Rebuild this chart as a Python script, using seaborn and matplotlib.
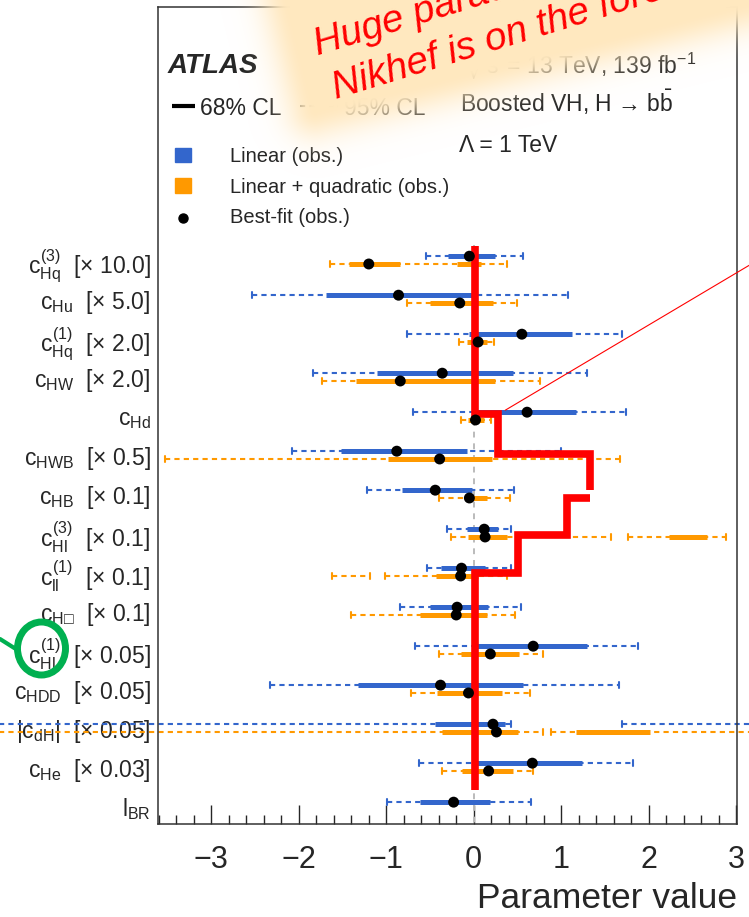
import numpy as np
import pandas as pd
import matplotlib
matplotlib.use("Agg")
import matplotlib.pyplot as plt
import seaborn as sns
from matplotlib.patches import Ellipse, Rectangle
from matplotlib.ticker import MultipleLocator

# ---- data ----
labels = [r"$c_{Hq}^{(3)}$  [× 10.0]", r"$c_{Hu}$  [× 5.0]", r"$c_{Hq}^{(1)}$  [× 2.0]",
          r"$c_{HW}$  [× 2.0]", r"$c_{Hd}$", r"$c_{HWB}$  [× 0.5]", r"$c_{HB}$  [× 0.1]",
          r"$c_{Hl}^{(3)}$  [× 0.1]", r"$c_{ll}^{(1)}$  [× 0.1]", r"$c_{H□}$  [× 0.1]",
          r"$c_{Hl}^{(1)}$  [× 0.05]", r"$c_{HDD}$  [× 0.05]", r"$|c_{dH}|$  [× 0.05]",
          r"$c_{He}$  [× 0.03]", r"$l_{BR}$"]

lin_best = [-0.05, -0.86, 0.55, -0.36, 0.61, -0.88, -0.44, 0.12, -0.14, -0.19, 0.68, -0.38, 0.22, 0.67, -0.23]
lin_68 = [[(-0.30, 0.24)], [(-1.69, 0.02)], [(-0.05, 1.12)], [(-1.11, 0.45)], [(0.04, 1.17)],
          [(-1.52, -0.08)], [(-0.82, -0.02)], [(-0.08, 0.28)], [(-0.37, 0.13)], [(-0.50, 0.16)],
          [(0.0, 1.29)], [(-1.32, 0.56)], [(-0.44, 0.36)], [(0.0, 1.24)], [(-0.61, 0.19)]]
lin_95 = [[(-0.55, 0.56)], [(-2.54, 1.08)], [(-0.76, 1.70)], [(-1.84, 1.29)], [(-0.69, 1.74)],
          [(-2.08, 1.00)], [(-1.22, 0.46)], [(-0.31, 0.43)], [(-0.54, 0.43)], [(-0.84, 0.54)],
          [(-0.67, 1.88)], [(-2.33, 1.66)], [(-5.5, 0.43), (1.70, 3.3)], [(-0.63, 1.82)], [(-0.99, 0.66)]]

quad_best = [-1.20, -0.16, 0.05, -0.84, 0.02, -0.39, -0.05, 0.13, -0.15, -0.20, 0.19, -0.06, 0.26, 0.17, np.nan]
quad_68 = [[(-1.43, -0.84), (-0.19, 0.08)], [(-0.50, 0.22)], [(-0.08, 0.15)], [(-1.35, 0.24)], [(-0.07, 0.12)],
           [(-0.98, 0.21)], [(-0.10, 0.15)], [(-0.07, 0.38), (2.23, 2.67)], [(-0.43, 0.05)], [(-0.61, 0.15)],
           [(-0.14, 0.52)], [(-0.42, 0.32)], [(-0.36, 0.51), (1.17, 2.02)], [(-0.13, 0.45)], []]
quad_95 = [[(-1.64, 0.38)], [(-0.76, 0.49)], [(-0.17, 0.23)], [(-1.74, 0.76)], [(-0.15, 0.20)],
           [(-3.53, 1.67)], [(-0.40, 0.415)], [(-0.26, 1.57), (1.76, 2.88)], [(-1.62, -1.19), (-1.02, 0.38)],
           [(-1.40, 0.47)], [(-0.40, 0.79)], [(-0.72, 0.64)], [(-5.5, 0.79), (0.88, 3.3)], [(-0.36, 0.68)], []]

# hand-drawn red staircase and pointer (x value, row position)
step1_x = [0.02, 0.02, 0.28, 0.28, 1.33, 1.33]
step1_y = [-0.36, 3.95, 3.95, 4.97, 4.97, 5.90]
step2_x = [1.33, 1.064, 1.064, 0.51, 0.51, 0.02, 0.02]
step2_y = [6.11, 6.11, 7.05, 7.05, 8.02, 8.02, 13.6]
pointer_x = [0.36, 3.73]
pointer_y = [3.85, -0.64]

blue = "#3366cc"
orange = "#ff9900"

sns.set_theme(style="white")
plt.rcParams["font.family"] = ["Liberation Sans", "DejaVu Sans"]
plt.rcParams["mathtext.fontset"] = "custom"
plt.rcParams["mathtext.rm"] = "Liberation Sans"
plt.rcParams["mathtext.it"] = "Liberation Sans"
plt.rcParams["mathtext.bf"] = "Liberation Sans:bold"
plt.rcParams["mathtext.sf"] = "Liberation Sans"
plt.rcParams["mathtext.fallback"] = "stix"

W, H = 749, 917
fig = plt.figure(figsize=(W / 100, H / 100), dpi=100)
ax = fig.add_axes([158 / W, 1 - 824 / H, (737 - 158) / W, (824 - 7) / H])

rows = np.arange(len(labels))
dash = (0, (2.5, 2.0))


def draw_series(ypos, i68, i95, color):
    for lo, hi in i95:
        ax.plot([lo, hi], [ypos, ypos], color=color, lw=1.5, ls=dash, zorder=2, clip_on=False)
        for e in (lo, hi):
            ax.plot([e, e], [ypos - 0.08, ypos + 0.08], color=color, lw=1.5, zorder=2, clip_on=False)
    for lo, hi in i68:
        ax.plot([lo, hi], [ypos, ypos], color=color, lw=3.6, solid_capstyle="butt", zorder=3)


ax.plot([0, 0], [-0.38, 14.5], color="#bbbbbb", lw=1.4, ls=(0, (3, 3)), zorder=1)

for i in rows:
    draw_series(i - 0.1, lin_68[i], lin_95[i], blue)
    draw_series(i + 0.1, quad_68[i], quad_95[i], orange)

ax.plot(step1_x, step1_y, color="red", lw=5.5, solid_joinstyle="miter", solid_capstyle="butt", zorder=4)
ax.plot(step2_x, step2_y, color="red", lw=5.5, solid_joinstyle="miter", solid_capstyle="butt", zorder=4)
ax.plot(pointer_x, pointer_y, color="red", lw=0.8, zorder=4, clip_on=False)

pts = pd.DataFrame({
    "x": lin_best + quad_best,
    "y": list(rows - 0.1) + list(rows + 0.1),
})
sns.scatterplot(data=pts, x="x", y="y", color="black", s=62, edgecolor="none",
                legend=False, ax=ax, zorder=6)

ax.set_xlim(-3.61, 3.01)
ax.set_ylim(14.46, -6.49)
ax.set_yticks(rows)
ax.set_yticklabels(labels, fontsize=16.5)
ax.tick_params(axis="y", length=0, pad=5.5)
ax.xaxis.set_major_locator(MultipleLocator(1))
ax.xaxis.set_minor_locator(MultipleLocator(0.2))
ax.tick_params(axis="x", which="major", direction="in", length=13.5, width=1, labelsize=22, pad=15, bottom=True)
ax.tick_params(axis="x", which="minor", direction="in", length=6.5, width=1, bottom=True)
ax.set_ylabel("")
ax.set_xlabel("Parameter value", fontsize=25.5, loc="right", labelpad=5)
for s in ax.spines.values():
    s.set_color("#333333")
    s.set_linewidth(1.1)

# ---- overlay in pixel coordinates ----
ov = fig.add_axes([0, 0, 1, 1], zorder=10)
ov.set_xlim(0, W)
ov.set_ylim(H, 0)
ov.axis("off")
ov.patch.set_alpha(0)

ov.text(168, 73, "ATLAS", fontsize=20, weight="bold", style="italic", va="baseline", zorder=1)
ov.plot([172, 195], [106, 106], color="black", lw=3, solid_capstyle="butt", zorder=1)
ov.text(200, 115, "68% CL", fontsize=16.5, va="baseline", zorder=1)
ov.plot([300, 338], [106, 106], color="black", lw=1.5, ls=(0, (2.5, 2)), zorder=1)
ov.text(344, 115, "95% CL", fontsize=16.5, va="baseline", zorder=1)
ov.text(462, 74, r"$\sqrt{s}$ = 13 TeV, 139 fb$^{-1}$", fontsize=16.5, va="baseline", zorder=1)
ov.text(460, 112, r"Boosted VH, H → b$\bar{\mathrm{b}}$", fontsize=16.5, va="baseline", zorder=1)
ov.text(459, 152, "Λ = 1 TeV", fontsize=16.5, va="baseline", zorder=1)

ov.add_patch(Rectangle((175, 148), 16, 14, color=blue, zorder=1))
ov.add_patch(Rectangle((175, 178), 16, 15, color=orange, zorder=1))
ov.plot([183], [218], "o", color="black", ms=6.5, zorder=1)
ov.text(230, 162, "Linear (obs.)", fontsize=14.5, va="baseline", zorder=1)
ov.text(230, 193, "Linear + quadratic (obs.)", fontsize=14.5, va="baseline", zorder=1)
ov.text(230, 223, "Best-fit (obs.)", fontsize=14.5, va="baseline", zorder=1)

# soft glow behind the red caption
yy, xx = np.mgrid[0:H, 0:W] + 0.5
ang = np.deg2rad(14)
u = (xx - 330) * np.cos(ang) - (yy - 65) * np.sin(ang)
v = (xx - 330) * np.sin(ang) + (yy - 65) * np.cos(ang)
du = np.maximum(np.maximum(-25 - u, 0), u - 450)
dv = np.maximum(np.maximum(-300 - v, 0), v - 40)
d = np.hypot(du, dv)
alpha = np.exp(-(d / 29) ** 2)
glow = np.zeros((H, W, 4))
glow[..., 0] = 1.0
glow[..., 1] = 0.91
glow[..., 2] = 0.75
glow[..., 3] = alpha
ov.imshow(glow, extent=[0, W, H, 0], aspect="auto", zorder=5, interpolation="bilinear")

ov.text(318, 55, "Huge paradigm shift", fontsize=28, style="italic", color="#ff0000",
        rotation=17, rotation_mode="anchor", va="baseline", ha="left", zorder=6)
ov.text(336, 99, "Nikhef is on the forefront", fontsize=28, style="italic", color="#ff0000",
        rotation=17, rotation_mode="anchor", va="baseline", ha="left", zorder=6)

ov.add_patch(Ellipse((41.5, 648.5), 48, 53, fill=False, ec="#00b050", lw=5, zorder=6))
ov.plot([0, 19], [639, 651], color="#00b050", lw=3, zorder=6)
ov.set_xlim(0, W)
ov.set_ylim(H, 0)

fig.savefig("out.png", dpi=100)
